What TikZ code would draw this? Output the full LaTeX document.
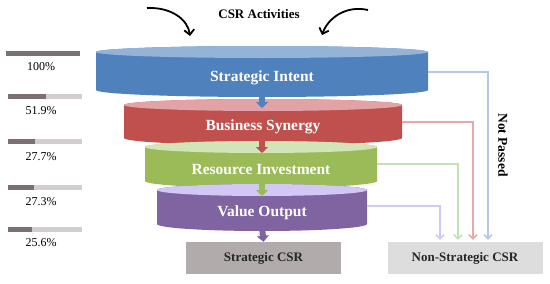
\documentclass[tikz,border=0pt]{standalone}
\usepackage{fontspec}
\setmainfont{Liberation Serif}
\usetikzlibrary{arrows.meta}

\definecolor{siblue}{HTML}{4F81BD}
\definecolor{sitop}{HTML}{95B3D7}
\definecolor{bsred}{HTML}{C0504D}
\definecolor{bstop}{HTML}{E3A2A6}
\definecolor{rigreen}{HTML}{9BBB59}
\definecolor{ritop}{HTML}{D3E5B6}
\definecolor{vopurple}{HTML}{8064A2}
\definecolor{votop}{HTML}{D2C8F6}
\definecolor{barfull}{HTML}{7A7072}
\definecolor{barempty}{HTML}{D2CECE}

\begin{document}
\begin{tikzpicture}[
  x=1pt, y=1pt,
  font=\rmfamily,
  layertext/.style={text=white, font=\rmfamily\bfseries\fontsize{15.5}{17}\selectfont},
  csrbox/.style={minimum width=155pt, minimum height=32pt, inner sep=0pt,
                 font=\rmfamily\bfseries\fontsize{13}{15}\selectfont, text=black!85},
  pct/.style={font=\rmfamily\fontsize{12}{14}\selectfont, text=black},
  drop/.style={line width=6pt, -{Triangle[width=12pt,length=6pt]}},
  reject/.style={line width=1.5pt, shorten >=2pt, -{Straight Barb[length=4pt,width=8pt]}},
  feed/.style={line width=1.8pt, -{Straight Barb[length=5pt,width=10pt]}},
]
  \useasboundingbox (0,0) rectangle (550,-284);

  % title and incoming arrows
  \node[font=\rmfamily\bfseries\fontsize{13}{15}\selectfont] (title) at (259,-14) {CSR Activities};
  \coordinate (inl) at (147,-8);
  \coordinate (inl-end) at (190,-36);
  \coordinate (inr) at (368,-10);
  \coordinate (inr-end) at (322,-35);
  \draw[feed] (inl) .. controls (172,-7) and (188,-20) .. (inl-end);
  \draw[feed] (inr) .. controls (346,-5) and (328,-18) .. (inr-end);

  % percentage bars
  \fill[barfull] (6,-51) rectangle (80,-56);
  \node[pct] (p1) at (41,-67) {100\%};
  \fill[barempty] (8,-94) rectangle (82,-99);
  \fill[barfull] (8,-94) rectangle (46,-99);
  \node[pct] (p2) at (41,-111) {51.9\%};
  \fill[barempty] (8,-139) rectangle (82,-144);
  \fill[barfull] (8,-139) rectangle (35,-144);
  \node[pct] (p3) at (41,-157) {27.7\%};
  \fill[barempty] (8,-185) rectangle (82,-190);
  \fill[barfull] (8,-185) rectangle (34,-190);
  \node[pct] (p4) at (41,-202) {27.3\%};
  \fill[barempty] (8,-227) rectangle (82,-232);
  \fill[barfull] (8,-227) rectangle (32,-232);
  \node[pct] (p5) at (41,-243) {25.6\%};

  % strategic intent layer
  \fill[siblue] (96,-52) -- (96,-90) arc[start angle=180, end angle=360, x radius=166, y radius=7]
    -- (428,-52) arc[start angle=0, end angle=180, x radius=166, y radius=6] -- cycle;
  \fill[sitop] (262,-52) ellipse[x radius=166, y radius=6];
  \node[layertext] (si) at (262,-78) {Strategic Intent};
  \coordinate (si-r) at (428,-72);

  % business synergy layer
  \fill[bsred] (124,-105) -- (124,-138) arc[start angle=180, end angle=360, x radius=139, y radius=7]
    -- (402,-105) arc[start angle=0, end angle=180, x radius=139, y radius=6] -- cycle;
  \fill[bstop] (263,-105) ellipse[x radius=139, y radius=6];
  \node[layertext] (bs) at (263,-127) {Business Synergy};
  \coordinate (bs-r) at (402,-122);

  % resource investment layer
  \fill[rigreen] (145,-147) -- (145,-181) arc[start angle=180, end angle=360, x radius=116, y radius=7]
    -- (377,-147) arc[start angle=0, end angle=180, x radius=116, y radius=6] -- cycle;
  \fill[ritop] (261,-147) ellipse[x radius=116, y radius=6];
  \node[layertext] (ri) at (261,-170) {Resource Investment};
  \coordinate (ri-r) at (377,-164);

  % value output layer
  \fill[vopurple] (157,-190) -- (157,-224) arc[start angle=180, end angle=360, x radius=105, y radius=7]
    -- (367,-190) arc[start angle=0, end angle=180, x radius=105, y radius=6] -- cycle;
  \fill[votop] (262,-190) ellipse[x radius=105, y radius=6];
  \node[layertext] (vo) at (262,-213) {Value Output};
  \coordinate (vo-r) at (367,-206);

  % outcome boxes
  \node[csrbox, fill={rgb,255:red,178;green,171;blue,171}] (scsr) at (263.5,-258) {Strategic CSR};
  \node[csrbox, fill={rgb,255:red,221;green,221;blue,221}] (nscsr) at (465,-258) {Non-Strategic CSR};

  % flow down the funnel
  \coordinate (d1) at (262,-93);  \coordinate (d1-end) at (262,-108);
  \coordinate (d2) at (262,-140); \coordinate (d2-end) at (262,-153);
  \coordinate (d3) at (262,-183); \coordinate (d3-end) at (262,-196);
  \draw[drop, siblue] (d1) -- (d1-end);
  \draw[drop, bsred] (d2) -- (d2-end);
  \draw[drop, rigreen] (d3) -- (d3-end);
  \draw[drop, vopurple] (262,-227) -- (scsr.north);

  % not passed
  \draw[reject, color={rgb,255:red,180;green,199;blue,231}] (si-r) -| ([xshift=23pt]nscsr.north);
  \draw[reject, color={rgb,255:red,230;green,169;blue,172}] (bs-r) -| ([xshift=8pt]nscsr.north);
  \draw[reject, color={rgb,255:red,197;green,224;blue,180}] (ri-r) -| ([xshift=-7pt]nscsr.north);
  \draw[reject, color={rgb,255:red,208;green,200;blue,245}] (vo-r) -| ([xshift=-25pt]nscsr.north);
  \node[rotate=-90, font=\rmfamily\bfseries\fontsize{13.5}{15}\selectfont] (np) at (503,-145) {Not Passed};
\end{tikzpicture}
\end{document}
